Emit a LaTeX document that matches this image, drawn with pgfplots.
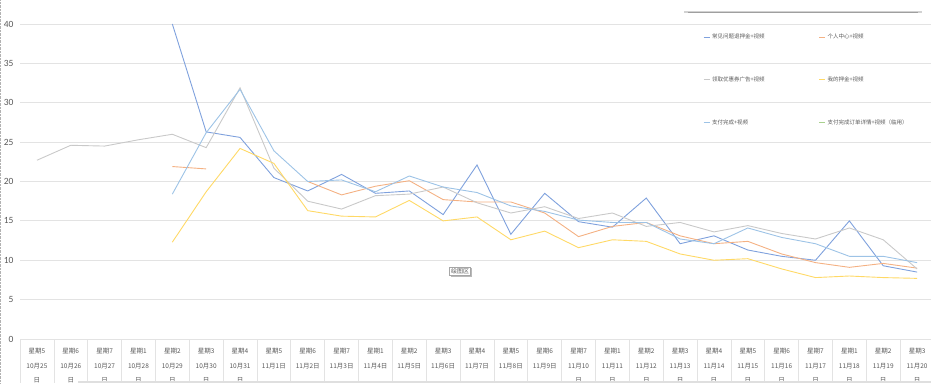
\documentclass[border=0pt]{standalone}
\usepackage{fontspec}
\setmainfont{Noto Sans CJK SC}
\newfontfamily\carlito{Carlito}
\usepackage{pgfplots}
\pgfplotsset{compat=1.18}
\usetikzlibrary{shadows}
\definecolor{cDB}{HTML}{7FA1DD}
\definecolor{cOR}{HTML}{F4B183}
\definecolor{cGR}{HTML}{C9C9C9}
\definecolor{cYE}{HTML}{FFD966}
\definecolor{cLB}{HTML}{9DC3E6}
\definecolor{cGN}{HTML}{A9D18E}
\definecolor{gridgray}{HTML}{E3E3E3}
\definecolor{labgray}{HTML}{595959}
\begin{document}
\begin{tikzpicture}
\useasboundingbox (0,0) rectangle (931pt,383pt);
\begin{axis}[
  at={(20pt,44pt)}, anchor=south west,
  scale only axis, width=914pt, height=339pt,
  xmin=-0.5, xmax=26.5, ymin=0, ymax=43.05,
  axis line style={draw=none},
  clip=true,
  unbounded coords=jump,
  ytick={0,5,...,40},
  ymajorgrids, grid style={color=gridgray, line width=0.8pt},
  major tick length=0pt,
  xtick pos=left,
  yticklabel style={font=\carlito\fontsize{9.5}{10}\selectfont, text=labgray, xshift=-3pt},
  /pgf/number format/assume math mode=true,
  xtick={0,...,26},
  xticklabels={{星期5\\10月25\\日},{星期6\\10月26\\日},{星期7\\10月27\\日},{星期1\\10月28\\日},{星期2\\10月29\\日},{星期3\\10月30\\日},{星期4\\10月31\\日},{星期5\\11月1日},{星期6\\11月2日},{星期7\\11月3日},{星期1\\11月4日},{星期2\\11月5日},{星期3\\11月6日},{星期4\\11月7日},{星期5\\11月8日},{星期6\\11月9日},{星期7\\11月10\\日},{星期1\\11月11\\日},{星期2\\11月12\\日},{星期3\\11月13\\日},{星期4\\11月14\\日},{星期5\\11月15\\日},{星期6\\11月16\\日},{星期7\\11月17\\日},{星期1\\11月18\\日},{星期2\\11月19\\日},{星期3\\11月20\\日}},
  xticklabel style={font=\fontsize{6.5}{14.5}\selectfont, align=center, text=labgray, yshift=-6pt},
  extra x ticks={-0.5,0.5,...,26.5},
  extra x tick labels={},
  extra x tick style={major tick length=44pt, tick align=outside, tick style={draw=gridgray, line width=0.7pt}},
  legend columns=2,
  legend cell align=left,
  legend style={at={(axis description cs:0.744,0.912)}, anchor=north west, draw=none, fill=none,
    font=\fontsize{5.5}{6}\selectfont, row sep=32.5pt,
    /tikz/every even column/.append style={column sep=52pt}},
  legend image code/.code={\draw[#1, line width=0.9pt] (0pt,0pt) -- (6pt,0pt);},
  every axis plot/.append style={line width=0.9pt},
]
\addplot[draw=cDB] coordinates {(4,40.0)(5,26.3)(6,25.6)(7,20.5)(8,18.8)(9,20.9)(10,18.5)(11,18.8)(12,15.8)(13,22.1)(14,13.3)(15,18.5)(16,14.9)(17,14.2)(18,17.9)(19,12.1)(20,13.1)(21,11.3)(22,10.5)(23,10.0)(24,15.0)(25,9.3)(26,8.5)};
\addlegendentry{\textcolor{labgray}{常见问题退押金+视频}}
\addplot[draw=cOR] coordinates {(4,21.9)(5,21.6)(6,nan)(7,nan)(8,20.0)(9,18.3)(10,19.4)(11,20.1)(12,17.7)(13,17.4)(14,17.4)(15,16.0)(16,13.0)(17,14.3)(18,14.8)(19,13.1)(20,12.1)(21,12.4)(22,10.8)(23,9.7)(24,9.1)(25,9.6)(26,9.0)};
\addlegendentry{\textcolor{labgray}{个人中心+视频}}
\addplot[draw=cGR] coordinates {(0,22.7)(1,24.6)(2,24.5)(3,25.3)(4,26.0)(5,24.3)(6,31.9)(7,21.7)(8,17.5)(9,16.5)(10,18.2)(11,18.4)(12,19.3)(13,17.3)(14,16.0)(15,16.8)(16,15.3)(17,16.0)(18,14.3)(19,14.8)(20,13.6)(21,14.4)(22,13.4)(23,12.7)(24,14.1)(25,12.6)(26,8.9)};
\addlegendentry{\textcolor{labgray}{领取优惠券广告+视频}}
\addplot[draw=cYE] coordinates {(4,12.3)(5,18.7)(6,24.2)(7,22.3)(8,16.3)(9,15.6)(10,15.5)(11,17.6)(12,15.0)(13,15.5)(14,12.6)(15,13.7)(16,11.6)(17,12.6)(18,12.4)(19,10.8)(20,10.0)(21,10.2)(22,8.9)(23,7.8)(24,8.0)(25,7.8)(26,7.7)};
\addlegendentry{\textcolor{labgray}{我的押金+视频}}
\addplot[draw=cLB] coordinates {(4,18.4)(5,26.2)(6,31.7)(7,23.9)(8,20.0)(9,20.2)(10,18.7)(11,20.7)(12,19.3)(13,18.6)(14,16.9)(15,16.2)(16,15.1)(17,14.8)(18,14.8)(19,12.7)(20,12.1)(21,14.1)(22,12.9)(23,12.1)(24,10.5)(25,10.5)(26,9.7)};
\addlegendentry{\textcolor{labgray}{支付完成+视频}}
\addlegendimage{draw=cGN}
\addlegendentry{\textcolor{labgray}{支付完成订单详情+视频（临用）}}
\node[draw=gray!70, fill=white, font=\fontsize{6}{7}\selectfont, text=labgray, inner sep=1.6pt,
  drop shadow={shadow xshift=1.2pt, shadow yshift=-1.2pt, fill=gray!55, opacity=1}] at (axis cs:12.5,8.6) {绘图区};
\end{axis}
\draw[line width=2.4pt, gray!35] (684pt,371pt) -- (922pt,371pt);
\draw[line width=0.8pt, gray!75] (688pt,371pt) -- (918pt,371pt);
\fill[gray!25] (78pt,0pt) rectangle (931pt,2.5pt);
\draw[gray!60, densely dotted] (0.5pt,0pt) -- (0.5pt,383pt);
\end{tikzpicture}
\end{document}
